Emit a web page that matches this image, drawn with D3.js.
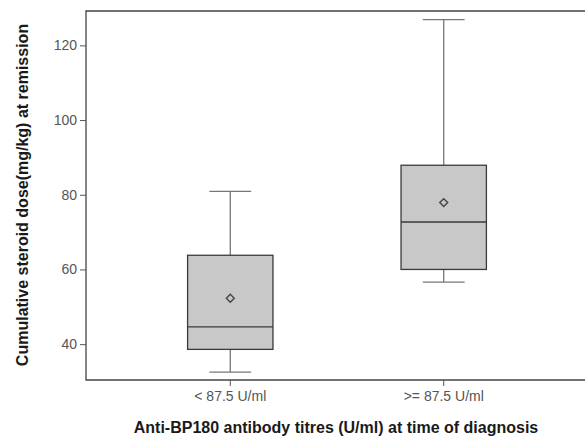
<!DOCTYPE html>
<html><head><meta charset="utf-8">
<script src="https://cdn.jsdelivr.net/npm/d3@7"></script>
<style>html,body{margin:0;background:#fff;overflow:hidden}svg{display:block}</style>
</head><body>
<script>
const categories = ["< 87.5 U/ml", ">= 87.5 U/ml"];
const whiskerLow = [32.5, 56.6];
const q1 = [38.6, 60.0];
const median = [44.6, 72.7];
const q3 = [63.8, 87.9];
const whiskerHigh = [80.9, 126.9];
const mean = [52.3, 77.9];
const yTicks = [40, 60, 80, 100, 120];

const W = 585, H = 439;
const m = {left: 86, top: 11, right: -3, bottom: 59};
const svg = d3.select("body").append("svg").attr("width", W).attr("height", H);
const x = d3.scaleBand().domain(categories).range([m.left, W - m.right]).paddingInner(0.6).paddingOuter(0.476);
const y = d3.scaleLinear().domain([30.4, 129.2]).range([H - m.bottom, m.top]);

const data = categories.map((c, i) => ({c, lo: whiskerLow[i], q1: q1[i], med: median[i], q3: q3[i], hi: whiskerHigh[i], mean: mean[i]}));
const font = "Liberation Sans, Arial, sans-serif";

// frame: top, left, bottom (right border lies outside the picture)
const y0 = H - m.bottom, y1 = m.top, xr = W + 10;
svg.append("path").attr("d", `M${xr},${y1}H${m.left}V${y0}H${xr}`)
  .attr("fill", "none").attr("stroke", "#444").attr("stroke-width", 1.3);

// y axis
const ya = svg.append("g").attr("transform", `translate(${m.left},0)`).call(d3.axisLeft(y).tickValues(yTicks).tickSize(6).tickPadding(3));
ya.select(".domain").remove();
ya.selectAll("line").attr("stroke", "#555");
ya.selectAll("text").attr("fill", "#555").style("font-family", font).style("font-size", "14px");

// x axis
const xa = svg.append("g").attr("transform", `translate(0,${H - m.bottom})`).call(d3.axisBottom(x).tickSize(6).tickPadding(5));
xa.select(".domain").remove();
xa.selectAll("line").attr("stroke", "#555");
xa.selectAll("text").attr("fill", "#555").style("font-family", font).style("font-size", "14px");

const g = svg.append("g");
const bw = x.bandwidth();
const cx = d => x(d.c) + bw / 2;
const capW = bw * 0.49;

// whiskers
g.selectAll(".wh").data(data).join("line").attr("x1", cx).attr("x2", cx).attr("y1", d => y(d.q3)).attr("y2", d => y(d.hi)).attr("stroke", "#777").attr("stroke-width", 1.3);
g.selectAll(".wl").data(data).join("line").attr("x1", cx).attr("x2", cx).attr("y1", d => y(d.q1)).attr("y2", d => y(d.lo)).attr("stroke", "#777").attr("stroke-width", 1.3);
g.selectAll(".ch").data(data).join("line").attr("x1", d => cx(d) - capW / 2).attr("x2", d => cx(d) + capW / 2).attr("y1", d => y(d.hi)).attr("y2", d => y(d.hi)).attr("stroke", "#777").attr("stroke-width", 1.3);
g.selectAll(".cl").data(data).join("line").attr("x1", d => cx(d) - capW / 2).attr("x2", d => cx(d) + capW / 2).attr("y1", d => y(d.lo)).attr("y2", d => y(d.lo)).attr("stroke", "#777").attr("stroke-width", 1.3);

// boxes
g.selectAll(".box").data(data).join("rect").attr("x", d => x(d.c)).attr("width", bw)
  .attr("y", d => y(d.q3)).attr("height", d => y(d.q1) - y(d.q3))
  .attr("fill", "#c8c8c8").attr("stroke", "#3a3a3a").attr("stroke-width", 1.3);
g.selectAll(".med").data(data).join("line").attr("x1", d => x(d.c)).attr("x2", d => x(d.c) + bw)
  .attr("y1", d => y(d.med)).attr("y2", d => y(d.med)).attr("stroke", "#3a3a3a").attr("stroke-width", 1.3);

// mean diamonds
g.selectAll(".mean").data(data).join("path")
  .attr("d", d3.symbol(d3.symbolDiamond2, 40))
  .attr("transform", d => `translate(${cx(d)},${y(d.mean)})`)
  .attr("fill", "none").attr("stroke", "#444").attr("stroke-width", 1.4);

// titles
svg.append("text").attr("x", 336).attr("y", 433).attr("text-anchor", "middle")
  .style("font-family", font).style("font-size", "16px").style("font-weight", "bold").attr("fill", "#1a1a1a")
  .text("Anti-BP180 antibody titres (U/ml) at time of diagnosis");
svg.append("text").attr("transform", "translate(28,195) rotate(-90)").attr("text-anchor", "middle")
  .style("font-family", font).style("font-size", "16px").style("font-weight", "bold").attr("fill", "#1a1a1a")
  .text("Cumulative steroid dose(mg/kg) at remission");
</script>
</body></html>
